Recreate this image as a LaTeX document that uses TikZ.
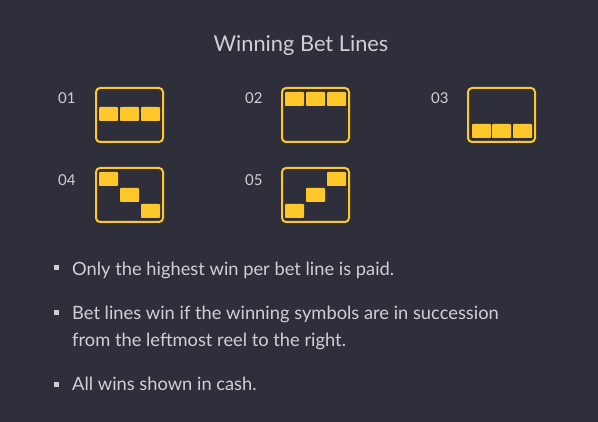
\documentclass[tikz,border=0pt]{standalone}
\usepackage{fontspec}
\setmainfont{Lato}
\definecolor{bg}{HTML}{2F2F3B}
\definecolor{gold}{HTML}{FFC82A}
\definecolor{txt}{HTML}{D0D0D4}
\begin{document}
\begin{tikzpicture}[x=1pt,y=-1pt,
  frame/.style={draw=gold, line width=2pt, rounded corners=4pt, minimum width=67pt, minimum height=54pt, inner sep=0pt, outer sep=0pt, anchor=north west},
  cell/.style={fill=gold, minimum width=19pt, minimum height=14pt, inner sep=0pt, outer sep=0pt, rounded corners=0.8pt, anchor=north west},
  num/.style={text=txt, font=\fontsize{15}{18}\selectfont, anchor=base west, inner sep=0pt},
  body/.style={text=txt, font=\fontsize{18.3}{22}\selectfont, anchor=base west, inner sep=0pt},
  title/.style={text=txt, font=\fontsize{21.8}{26}\selectfont, anchor=base, inner sep=0pt},
  dot/.style={fill=txt, minimum size=5pt, inner sep=0pt, outer sep=0pt}]
\fill[bg] (0,0) rectangle (598,422);
\useasboundingbox (0,0) rectangle (598,422);
\node[title] (t) at (301,52) {Winning Bet Lines};
% row 1
\node[num] (n1) at (58,104) {01};
\node[frame] (b1) at (96,88) {};
\node[cell] (c11) at (99,107) {};
\node[cell] (c12) at (120,107) {};
\node[cell] (c13) at (141,107) {};
\node[num] (n2) at (245,104) {02};
\node[frame] (b2) at (282,88) {};
\node[cell] (c21) at (285,92) {};
\node[cell] (c22) at (306,92) {};
\node[cell] (c23) at (327,92) {};
\node[num] (n3) at (431,104) {03};
\node[frame] (b3) at (468,88) {};
\node[cell] (c31) at (472,124) {};
\node[cell] (c32) at (492,124) {};
\node[cell] (c33) at (513,124) {};
% row 2
\node[num] (n4) at (58,186) {04};
\node[frame] (b4) at (96,168) {};
\node[cell] (c41) at (99,172) {};
\node[cell] (c42) at (120,188) {};
\node[cell] (c43) at (141,204) {};
\node[num] (n5) at (245,186) {05};
\node[frame] (b5) at (282,168) {};
\node[cell] (c51) at (285,204) {};
\node[cell] (c52) at (306,188) {};
\node[cell] (c53) at (327,172) {};
% bullets
\node[dot] (d1) at (56,268) {};
\node[body] (l1) at (72,276) {Only the highest win per bet line is paid.};
\node[dot] (d2) at (56,313) {};
\node[body] (l2) at (72,320) {Bet lines win if the winning symbols are in succession};
\node[body] (l3) at (72,347) {from the leftmost reel to the right.};
\node[dot] (d3) at (56,385) {};
\node[body] (l4) at (72,391) {All wins shown in cash.};
\end{tikzpicture}
\end{document}
